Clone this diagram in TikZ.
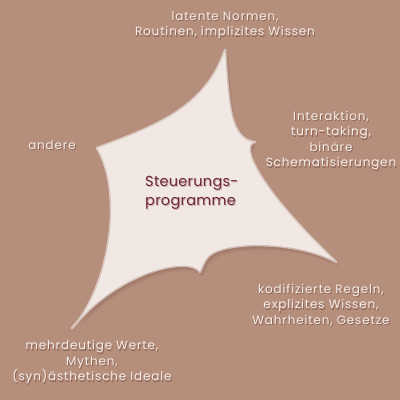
\documentclass[tikz,border=0pt]{standalone}
\usepackage{fontspec}
\setmainfont{Poppins}
\definecolor{bg}{RGB}{181,142,124}
\definecolor{shapefill}{RGB}{241,231,227}
\definecolor{shadowcol}{RGB}{120,80,66}
\definecolor{txtlight}{RGB}{246,238,234}
\definecolor{txtshadow}{RGB}{110,72,58}
\definecolor{txtdark}{RGB}{112,38,52}
\newcommand\shapepath{(225,50) .. controls (229,105) and (230,140) .. (255,142) .. controls (240,144) and (255,185) .. (336,262) .. controls (300,242) and (230,240) .. (210,255) .. controls (205,259) and (203,265) .. (200,272) .. controls (190,256) and (120,270) .. (72,328) .. controls (108,290) and (125,195) .. (97,148) .. controls (150,128) and (205,110) .. (225,50) -- cycle}
\tikzset{
  outer/.style={text=txtlight, font=\fontsize{12}{15.5}\selectfont\addfontfeature{LetterSpace=7}, align=center, inner sep=0pt},
  outersh/.style={outer, text=txtshadow, opacity=0.55},
  centre/.style={text=txtdark, font=\fontsize{14.5}{19}\selectfont\addfontfeature{LetterSpace=2}, align=left, inner sep=0pt, anchor=west},
  centresh/.style={centre, text=shadowcol, opacity=0.35}
}
\begin{document}
\begin{tikzpicture}[x=1pt,y=-1pt]
\useasboundingbox (0,0) rectangle (400,400);
\fill[bg] (0,0) rectangle (400,400);
% soft drop shadow of the shape
\foreach \d/\o in {7/0.04,6/0.05,5/0.06,4/0.07,3/0.08,2/0.1,1/0.12}{
  \begin{scope}[shift={(\d*0.5,\d*0.8)}]
    \fill[shadowcol, opacity=\o] \shapepath;
  \end{scope}
}
% light rim
\draw[white, line width=2.4pt, opacity=0.55, line join=round] \shapepath;
\fill[shapefill] \shapepath;
\draw[shadowcol, line width=0.5pt, opacity=0.15] \shapepath;

% centre label
\node[centresh] (csh) at (146,194) {Steuerungs-\\programme};
\node[centre] (c) at (145,193) {Steuerungs-\\programme};

% outer labels (shadow, then text)
\node[outersh] (t1s) at (226,26.5) {latente Normen,\\Routinen, implizites Wissen};
\node[outer] (t1) at (225,25) {latente Normen,\\Routinen, implizites Wissen};

\node[outersh] (t2s) at (332,142) {Interaktion,\\turn-taking,\\binäre\\Schematisierungen};
\node[outer] (t2) at (331,140.5) {Interaktion,\\turn-taking,\\binäre\\Schematisierungen};

\node[outersh] (t3s) at (53,146.5) {andere};
\node[outer] (t3) at (52,145) {andere};

\node[outersh] (t4s) at (322,306.5) {kodifizierte Regeln,\\explizites Wissen,\\Wahrheiten, Gesetze};
\node[outer] (t4) at (321,305) {kodifizierte Regeln,\\explizites Wissen,\\Wahrheiten, Gesetze};

\node[outersh] (t5s) at (93,363.5) {mehrdeutige Werte,\\Mythen,\\(syn)ästhetische Ideale};
\node[outer] (t5) at (92,362) {mehrdeutige Werte,\\Mythen,\\(syn)ästhetische Ideale};
\end{tikzpicture}
\end{document}
